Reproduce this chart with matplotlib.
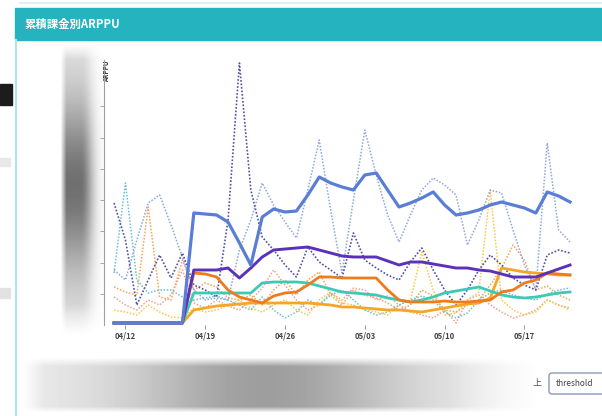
import numpy as np
import pandas as pd
import matplotlib
matplotlib.use('Agg')
import matplotlib.pyplot as plt
from matplotlib.patches import Rectangle, FancyBboxPatch

plt.rcParams['font.family'] = ['Noto Sans CJK JP', 'DejaVu Sans']

# daily ARPPU by cumulative spend bracket
dates = pd.date_range('2019-04-11', '2019-05-21', freq='D')
tick_labels = ['04/12', '04/19', '04/26', '05/03', '05/10', '05/17']

# solid lines
arppu_blue = [40, 40, 40, 40, 40, 40, 40,
              2240, 2220, 2200, 2060, 1640, 1200, 2160, 2320, 2260, 2280, 2600, 2960, 2840,
              2760, 2700, 3000, 3040, 2700, 2360, 2440, 2540, 2660, 2400, 2200, 2240, 2300,
              2400, 2460, 2400, 2340, 2240, 2660, 2580, 2460]
arppu_purple = [40, 40, 40, 40, 40, 40, 40,
                1100, 1100, 1100, 1140, 940, 1140, 1360, 1500, 1520, 1540, 1560, 1500, 1440,
                1380, 1360, 1360, 1360, 1280, 1200, 1260, 1260, 1220, 1180, 1140, 1140, 1100,
                1080, 1020, 960, 960, 960, 1040, 1120, 1200]
arppu_orange = [40, 40, 40, 40, 40, 40, 40,
                1040, 1020, 960, 700, 560, 500, 440, 580, 640, 660, 800, 960, 960,
                940, 940, 940, 940, 700, 500, 460, 460, 460, 480, 460, 460, 480,
                500, 660, 700, 840, 900, 1040, 1020, 1000]
arppu_teal = [40, 40, 40, 40, 40, 40, 40,
              640, 640, 640, 640, 640, 640, 840, 860, 860, 860, 840, 780, 720,
              660, 640, 620, 600, 540, 500, 460, 500, 560, 640, 680, 720, 760,
              680, 600, 560, 540, 560, 600, 640, 660]
arppu_amber = [40, 40, 40, 40, 40, 40, 40,
               300, 340, 380, 400, 420, 440, 440, 440, 440, 440, 440, 420, 400,
               360, 360, 340, 320, 300, 300, 280, 260, 300, 340, 380, 420, 440,
               540, 1140, 1100, 1060, 1040, 1020, 1000, 1000]

# dotted lines
daily_navy = [2440, 1700, 400, 900, 1400, 940, 1440, 800, 700, 560, 2100, 5240, 2700, 1760,
              1500, 1200, 960, 1560, 1260, 1100, 940, 1840, 1300, 1140, 1000, 900, 1260,
              1540, 1100, 700, 400, 700, 1100, 1400, 1200, 940, 800, 700, 1400, 1500, 1440]
daily_light = [1100, 900, 1700, 2440, 2600, 2000, 1360, 700, 500, 540, 500, 1500, 2100, 2840,
               2400, 2060, 1740, 2700, 3700, 2300, 1040, 2500, 3900, 3000, 2200, 1660, 2200,
               2700, 2940, 2800, 2600, 1600, 2100, 2700, 2640, 1900, 1200, 700, 3640, 1900, 1660]
daily_teal = [1040, 2840, 900, 640, 700, 700, 560, 500, 540, 580, 500, 400, 300, 560,
              300, 140, 260, 500, 400, 600, 700, 500, 300, 200, 260, 400, 500,
              580, 500, 260, 140, 240, 500, 640, 700, 600, 540, 500, 620, 700, 740]
daily_orange = [760, 660, 600, 2360, 560, 500, 1300, 700, 840, 760, 540, 500, 600, 400,
                700, 900, 600, 900, 1060, 600, 400, 700, 600, 540, 440, 300, 400,
                700, 580, 300, 260, 400, 500, 800, 1140, 1600, 1300, 700, 780, 600, 500]
daily_yellow = [300, 260, 200, 400, 260, 160, 140, 340, 260, 300, 400, 500, 340, 260,
                400, 500, 300, 200, 500, 660, 440, 400, 300, 260, 200, 400, 500,
                1460, 700, 200, 240, 500, 660, 2700, 500, 300, 200, 260, 500, 400, 300]
daily_pink = [560, 400, 300, 500, 400, 600, 1100, 440, 340, 500, 380, 300, 500, 740,
              1100, 800, 500, 300, 400, 640, 500, 740, 700, 500, 580, 400, 260,
              200, 140, 300, 40, 500, 600, 400, 260, 140, 200, 300, 500, 400, 340]

W, H = 602, 416
fig = plt.figure(figsize=(W / 100, H / 100), dpi=100)
fig.patch.set_facecolor('white')

# page furniture in pixel coordinates
bg = fig.add_axes([0, 0, 1, 1], zorder=0)
bg.set_xlim(0, W)
bg.set_ylim(H, 0)
bg.axis('off')

bg.plot([20, W], [3, 3], color='#d5eeee', lw=1.2)
bg.add_patch(Rectangle((15, 8), W - 15, 32, color='#24b3bf'))
bg.plot([15.5, 15.5], [40, H], color='#b2e4e4', lw=1.6)
bg.text(24, 24, '累積課金別ARPPU', color='white', fontsize=8.2,
        fontweight='bold', va='center', ha='left')

bg.add_patch(Rectangle((0, 84), 12, 21, color='#1c1c1c'))
bg.add_patch(Rectangle((0, 158), 10, 8, color='#e8e8e8'))
bg.add_patch(Rectangle((0, 288), 10, 10, color='#e2e2e2'))

# blurred y labels
yy, xx = np.mgrid[42:334, 56:106].astype(float)
horiz = np.clip((xx - 60) / 6.0, 0, 1) * np.where(xx < 80, 1.0, np.exp(-((xx - 80) / 13.0) ** 2))
vert = 0.46 * np.exp(-((yy - 185) / 85.0) ** 2) + 0.1
vert *= np.clip((yy - 44) / 15.0, 0, 1) * np.clip((334 - yy) / 30.0, 0, 1)
img = np.clip(1 - horiz * vert, 0, 1)
bg.imshow(img, cmap='gray', vmin=0, vmax=1, extent=(56, 106, 334, 42),
          origin='upper', aspect='auto', interpolation='bilinear')

# blurred filter bar
yy, xx = np.mgrid[356:412, 20:545].astype(float)
edge = np.clip((yy - 357) / 9.0, 0, 1) * np.clip((412 - yy) / 6.0, 0, 1)
shade = (0.07 + 0.31 * np.exp(-((xx - 265) / 140.0) ** 2)) * edge
shade *= np.clip((xx - 22) / 22.0, 0, 1) * np.clip((540 - xx) / 90.0, 0, 1)
img = np.clip(1 - shade, 0, 1)
bg.imshow(img, cmap='gray', vmin=0, vmax=1, extent=(20, 545, 412, 356),
          origin='upper', aspect='auto', interpolation='bilinear')

bg.text(537, 384, '上', fontsize=6.5, color='#555555', ha='center', va='center')
bg.add_patch(FancyBboxPatch((549, 373), 60, 21, boxstyle='round,pad=0,rounding_size=3',
                            edgecolor='#8a98b8', facecolor='white', lw=1))
bg.text(575, 384, 'threshold', fontsize=6, color='#444444', ha='center', va='center')
bg.text(107, 71, 'ARPPU', fontsize=4.5, fontweight='bold', color='#333333',
        rotation=90, ha='center', va='center')

# chart
ax = fig.add_axes([104 / W, (H - 325) / H, (578 - 104) / W, 265 / H], zorder=1)
ax.patch.set_alpha(0)
days = np.arange(len(dates))

dot = (0, (1, 1.1))
ax.plot(days, daily_pink, color='#f2a090', lw=1.1, ls=dot)
ax.plot(days, daily_yellow, color='#f7c848', lw=1.1, ls=dot)
ax.plot(days, daily_orange, color='#f4a35a', lw=1.1, ls=dot)
ax.plot(days, daily_teal, color='#66c4cf', lw=1.1, ls=dot)
ax.plot(days, daily_light, color='#8ca6e0', lw=1.1, ls=dot)
ax.plot(days, daily_navy, color='#5050a8', lw=1.2, ls=dot)

ax.plot(days, arppu_amber, color='#f6a626', lw=2.0)
ax.plot(days, arppu_teal, color='#3ccab6', lw=2.0)
ax.plot(days, arppu_orange, color='#ef7b1c', lw=2.0)
ax.plot(days, arppu_purple, color='#5a32ba', lw=2.1)
ax.plot(days, arppu_blue, color='#5a7dd6', lw=2.3)

ax.set_xlim(-0.88, 40.7)
ax.set_ylim(0, 5300)
for side in ['top', 'right', 'bottom']:
    ax.spines[side].set_visible(False)
ax.spines['left'].set_color('#a0a0a0')
ax.spines['left'].set_linewidth(0.8)

tick_days = [list(dates.strftime('%m/%d')).index(t) for t in tick_labels]
ax.set_xticks(tick_days)
ax.set_xticklabels(tick_labels, fontsize=5.5, fontweight='bold', color='#444444')
ax.tick_params(axis='x', length=3, width=0.6, color='#888888', pad=2)
ax.set_yticks(np.arange(625, 5000, 625))
ax.set_yticklabels([])
ax.tick_params(axis='y', length=3, width=0.6, color='#999999')

fig.savefig('out.png', dpi=100)
